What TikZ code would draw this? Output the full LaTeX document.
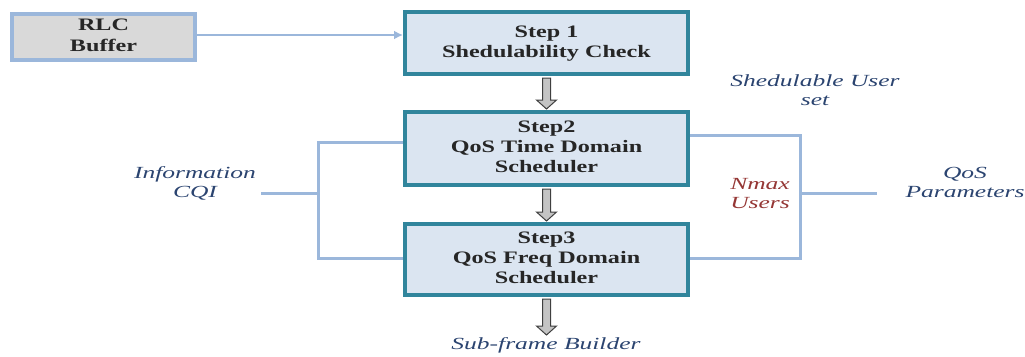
\documentclass[tikz,border=0pt]{standalone}
\usepackage{fontspec}
\setmainfont{Liberation Serif}
\usetikzlibrary{calc,arrows.meta}
\definecolor{boxfill}{HTML}{DBE5F1}
\definecolor{boxline}{HTML}{31859C}
\definecolor{lnk}{HTML}{9BB7DB}
\definecolor{graybox}{HTML}{D9D9D9}
\definecolor{txtblue}{HTML}{2B4470}
\definecolor{txtred}{HTML}{953735}
\definecolor{hfill}{HTML}{C4C4C4}
\definecolor{hline}{HTML}{3F3F3F}
\newcommand\btxt[1]{\scalebox{1.38}[1]{\fontsize{17.5}{20}\selectfont\bfseries\begin{tabular}{@{}c@{}}#1\end{tabular}}}
\newcommand\itxt[1]{\scalebox{1.5}[1]{\fontsize{17}{19.5}\selectfont\itshape\begin{tabular}{@{}c@{}}#1\end{tabular}}}
\tikzset{
  stepbox/.style={draw=boxline, fill=boxfill, line width=4pt, minimum width=283pt, inner sep=0pt, text=black!85},
  rlcbox/.style={draw=lnk, fill=graybox, line width=4pt, minimum width=183pt, minimum height=46pt, inner sep=0pt, text=black!85},
  link/.style={draw=lnk, line width=3pt},
  itlabel/.style={inner sep=0pt, text=txtblue},
  hollow/.style={fill=hfill, draw=hline, line width=1pt, line join=miter}
}
\newcommand\harrow[2]{%
  \filldraw[hollow] ($(#1)+(-4,2)$) -- ($(#2)+(-4,-10)$) -- ($(#2)+(-10,-10)$) -- ($(#2)+(0,-1)$) -- ($(#2)+(10,-10)$) -- ($(#2)+(4,-10)$) -- ($(#1)+(4,2)$) -- cycle;}
\begin{document}
\begin{tikzpicture}[x=1pt,y=-1pt]
\useasboundingbox (0,0) rectangle (1025,356);
\node[rlcbox] (rlc) at (103.5,37) {\btxt{RLC\\Buffer}};
\node[stepbox, minimum height=62pt] (s1) at (546.5,43) {\raisebox{7pt}{\btxt{Step 1\\Shedulability Check}}};
\node[stepbox, minimum height=73pt] (s2) at (546.5,148.5) {\btxt{Step2\\QoS Time Domain\\Scheduler}};
\node[stepbox, minimum height=71pt] (s3) at (546.5,259.5) {\btxt{Step3\\QoS Freq Domain\\Scheduler}};
\coordinate (sub) at (546.5,336);
\node[itlabel] (sfb) at (546,346) {\itxt{Sub-frame Builder}};
\node[itlabel] (info) at (195,184) {\itxt{Information\\CQI}};
\node[itlabel] (qos) at (965,184) {\itxt{QoS\\Parameters}};
\node[itlabel, text=txtred] (nmax) at (760,195) {\itxt{Nmax\\Users}};
\node[itlabel] (sus) at (815,92) {\itxt{Shedulable User\\set}};
\coordinate (jl) at (318,193);
\coordinate (jr) at (800,193);
% RLC -> Step 1
\draw[link, line width=2.4pt, -{Latex[length=9pt,width=9pt]}] ([yshift=2pt]rlc.east) -- ([yshift=2pt]rlc.east -| s1.west);
% hollow arrows
\harrow{s1.south}{s2.north}
\harrow{s2.south}{s3.north}
\harrow{s3.south}{sub}
% left bracket
\draw[link] ([yshift=6.5pt]s2.west) -- ([yshift=6.5pt]s2.west -| jl) -- ([yshift=1.5pt]s3.west -| jl) -- ([yshift=1.5pt]s3.west);
\draw[link] (info.east |- jl) ++(5,0) -- (jl);
% right bracket
\draw[link] ([yshift=13.5pt]s2.east) -- ([yshift=13.5pt]s2.east -| jr) -- ([yshift=1.5pt]s3.east -| jr) -- ([yshift=1.5pt]s3.east);
\draw[link] (jr) -- (877,193);
\end{tikzpicture}
\end{document}
